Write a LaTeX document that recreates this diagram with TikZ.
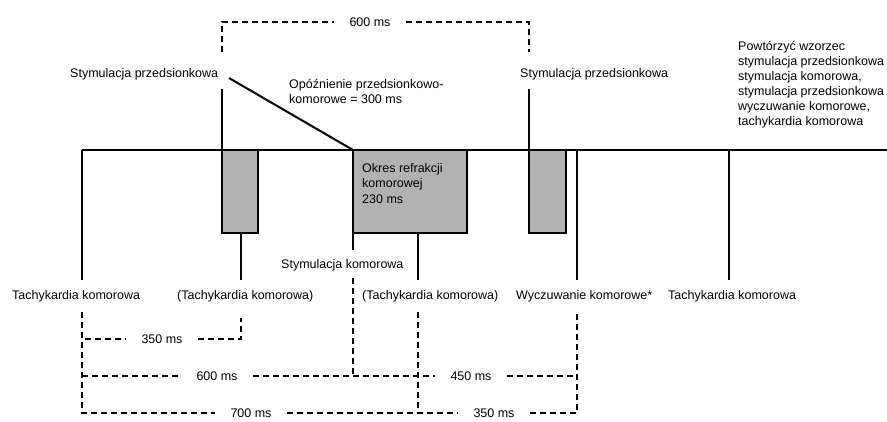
\documentclass[tikz,border=0pt]{standalone}
\usepackage{fontspec}
\setmainfont{Liberation Sans}
\tikzset{
  lbl/.style={inner sep=0pt, font=\fontsize{12.5}{15}\selectfont},
  gaplbl/.style={lbl, inner xsep=15pt},
  wire/.style={line width=2pt},
  refbox/.style={draw, fill=black!30, line width=2pt},
  dim/.style={line width=1.1pt, dash pattern=on 6pt off 4pt}
}
\begin{document}
\begin{tikzpicture}[x=1pt, y=-1pt]
  \useasboundingbox (0,0) rectangle (887,421);
  % Coordinates
  \coordinate (A) at (82, 150);
  \coordinate (B) at (887, 150);
  \coordinate (C) at (82, 280);
  \coordinate (D) at (222, 89);
  \coordinate (E) at (222, 150);
  \coordinate (F) at (258, 233);
  \coordinate (G) at (241, 233);
  \coordinate (H) at (241, 280);
  \coordinate (I) at (229, 78);
  \coordinate (J) at (353, 150);
  \coordinate (K) at (467, 233);
  \coordinate (L) at (353, 250);
  \coordinate (M) at (418, 233);
  \coordinate (N) at (418, 280);
  \coordinate (O) at (529, 89);
  \coordinate (P) at (529, 150);
  \coordinate (Q) at (566, 233);
  \coordinate (R) at (577, 150);
  \coordinate (S) at (577, 280);
  \coordinate (T) at (729, 150);
  \coordinate (U) at (729, 280);
  % Interval coordinates
  \coordinate (V1) at (222, 52);
  \coordinate (V2) at (222, 22);
  \coordinate (V3) at (529, 22);
  \coordinate (V4) at (529, 52);
  \coordinate (W1) at (82, 312);
  \coordinate (W2) at (82, 339);
  \coordinate (W3) at (241, 339);
  \coordinate (W4) at (241, 318);
  \coordinate (X1) at (82, 376);
  \coordinate (X2) at (353, 278);
  \coordinate (X3) at (353, 376);
  \coordinate (X4) at (577, 376);
  \coordinate (Y1) at (82, 413);
  \coordinate (Y2) at (418, 312);
  \coordinate (Y3) at (418, 413);
  \coordinate (Y4) at (577, 312);
  \coordinate (Y5) at (577, 413);

  % Drawing
  \draw[refbox] (E) rectangle (F);
  \draw[refbox] (J) rectangle (K);
  \draw[refbox] (P) rectangle (Q);
  \draw[wire] (A) -- (B);
  \draw[wire] (A) -- (C);
  \draw[wire] (D) -- (E);
  \draw[wire] (G) -- (H);
  \draw[wire] (I) -- (J);
  \draw[wire] (J) -- (L);
  \draw[wire] (M) -- (N);
  \draw[wire] (O) -- (P);
  \draw[wire] (R) -- (S);
  \draw[wire] (T) -- (U);

  % Labels
  \node[lbl, anchor=base west] (sp1) at (70, 77.5) {Stymulacja przedsionkowa};
  \node[lbl, anchor=base west] (sp2) at (520, 77.5) {Stymulacja przedsionkowa};
  \node[lbl, anchor=north west, align=left] (avd) at (289, 79.5)
    {Opóźnienie przedsionkowo-\\komorowe = 300 ms};
  \node[lbl, anchor=north west, align=left] (rep) at (738, 41)
    {Powtórzyć wzorzec\\stymulacja przedsionkowa\\stymulacja komorowa,\\stymulacja przedsionkowa\\wyczuwanie komorowe,\\tachykardia komorowa};
  \node[lbl, anchor=north west, align=left,
        font=\fontsize{12.5}{15.5}\selectfont] (vrp) at (362, 163)
    {Okres refrakcji\\komorowej\\230 ms};
  \node[lbl, anchor=base west] (vp) at (281, 268.5) {Stymulacja komorowa};
  \node[lbl, anchor=base west] (vt1) at (12, 299.5) {Tachykardia komorowa};
  \node[lbl, anchor=base west] (vt2) at (177, 299.5) {(Tachykardia komorowa)};
  \node[lbl, anchor=base west] (vt3) at (362, 299.5) {(Tachykardia komorowa)};
  \node[lbl, anchor=base west] (vs) at (516, 299.5) {Wyczuwanie komorowe*};
  \node[lbl, anchor=base west] (vt4) at (668, 299.5) {Tachykardia komorowa};

  % Intervals
  \node[gaplbl] (t600) at (370, 22) {600 ms};
  \node[gaplbl] (t350) at (162, 339) {350 ms};
  \node[gaplbl] (b600) at (217, 376) {600 ms};
  \node[gaplbl] (b450) at (471, 376) {450 ms};
  \node[gaplbl] (b700) at (251, 413) {700 ms};
  \node[gaplbl] (b350) at (494, 413) {350 ms};
  \draw[dim] (V1) -- (V2) -- (t600.west);
  \draw[dim] (t600.east) -- (V3) -- (V4);
  \draw[dim] (W1) -- (W2) -- (t350.west);
  \draw[dim] (t350.east) -- (W3) -- (W4);
  \draw[dim] (W1) -- (Y1) -- (b700.west);
  \draw[dim] (b700.east) -- (b350.west);
  \draw[dim] (b350.east) -- (Y5) -- (Y4);
  \draw[dim] (X1) -- (b600.west);
  \draw[dim] (b600.east) -- (b450.west);
  \draw[dim] (b450.east) -- (X4);
  \draw[dim] (X2) -- (X3);
  \draw[dim] (Y2) -- (Y3);
\end{tikzpicture}
\end{document}
